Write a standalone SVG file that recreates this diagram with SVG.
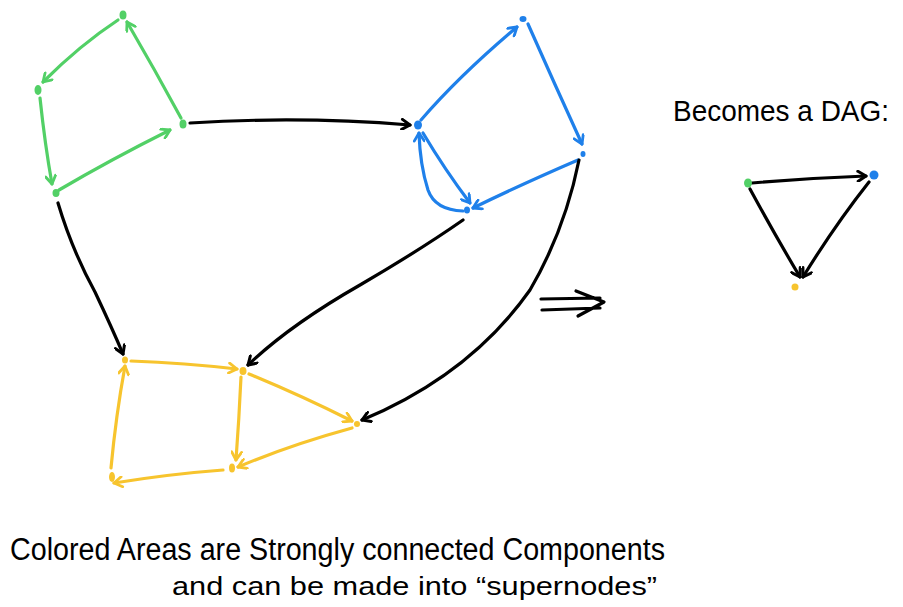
<svg xmlns="http://www.w3.org/2000/svg" width="903" height="607" viewBox="0 0 903 607">
  <style>
    .edge { fill: none; stroke-width: 3.2; stroke-linecap: round; stroke-linejoin: round; }
    .g { stroke: #52d066; }
    .b { stroke: #1f80ea; }
    .y { stroke: #f7c42e; }
    .k { stroke: #000; }
    .ng { fill: #52d066; }
    .nb { fill: #1f80ea; }
    .ny { fill: #f7c42e; }
    .label { font-family: "Liberation Sans", "DejaVu Sans", sans-serif; fill: #000; }
  </style>
  <defs>
    <marker id="ag" viewBox="-10 -6 12 12" markerWidth="12" markerHeight="12" refX="0" refY="0" orient="auto" markerUnits="userSpaceOnUse">
      <polyline points="-8,-5 0,0 -8,5" fill="none" stroke="#52d066" stroke-width="2.8" stroke-linecap="round" stroke-linejoin="round"/>
    </marker>
    <marker id="ab" viewBox="-10 -6 12 12" markerWidth="12" markerHeight="12" refX="0" refY="0" orient="auto" markerUnits="userSpaceOnUse">
      <polyline points="-8,-5 0,0 -8,5" fill="none" stroke="#1f80ea" stroke-width="2.8" stroke-linecap="round" stroke-linejoin="round"/>
    </marker>
    <marker id="ay" viewBox="-10 -6 12 12" markerWidth="12" markerHeight="12" refX="0" refY="0" orient="auto" markerUnits="userSpaceOnUse">
      <polyline points="-8,-5 0,0 -8,5" fill="none" stroke="#f7c42e" stroke-width="2.8" stroke-linecap="round" stroke-linejoin="round"/>
    </marker>
    <marker id="ak" viewBox="-10 -6 12 12" markerWidth="12" markerHeight="12" refX="0" refY="0" orient="auto" markerUnits="userSpaceOnUse">
      <polyline points="-8,-5 0,0 -8,5" fill="none" stroke="#000" stroke-width="3" stroke-linecap="round" stroke-linejoin="round"/>
    </marker>
  </defs>
  <rect width="903" height="607" fill="#fff"/>

  <!-- connectors -->
  <g id="connectors">
    <!-- green component -->
    <path class="edge g" d="M118,20 Q80,45 43,82" marker-end="url(#ag)"/>
    <path class="edge g" d="M40,98 Q45,145 52,184" marker-end="url(#ag)"/>
    <path class="edge g" d="M59,190 Q110,160 170,130" marker-end="url(#ag)"/>
    <path class="edge g" d="M181,118 Q155,70 127,22" marker-end="url(#ag)"/>
    <!-- blue component -->
    <path class="edge b" d="M421,120 Q460,75 517,27" marker-end="url(#ab)"/>
    <path class="edge b" d="M528,24 Q555,85 582,144" marker-end="url(#ab)"/>
    <path class="edge b" d="M578,160 Q520,185 473,208" marker-end="url(#ab)"/>
    <path class="edge b" d="M423,133 Q445,170 470,203" marker-end="url(#ab)"/>
    <path class="edge b" d="M463,211 Q435,210 428,190 Q420,165 419,133" marker-end="url(#ab)"/>
    <!-- yellow component -->
    <path class="edge y" d="M131,361 Q185,363 237,369" marker-end="url(#ay)"/>
    <path class="edge y" d="M249,374 Q300,395 352,421" marker-end="url(#ay)"/>
    <path class="edge y" d="M241,377 Q239,420 236,460" marker-end="url(#ay)"/>
    <path class="edge y" d="M352,428 Q290,445 238,467" marker-end="url(#ay)"/>
    <path class="edge y" d="M223,470 Q170,474 114,483" marker-end="url(#ay)"/>
    <path class="edge y" d="M111,468 Q116,415 125,366" marker-end="url(#ay)"/>
    <!-- links between components -->
    <path class="edge k" d="M190,123 Q300,116 410,125" marker-end="url(#ak)"/>
    <path class="edge k" d="M58,203 Q72,250 95,292 Q112,328 123,354" marker-end="url(#ak)"/>
    <path class="edge k" d="M463,220 Q420,250 360,285 Q290,325 248,365" marker-end="url(#ak)"/>
    <path class="edge k" d="M579,160 Q565,230 530,290 Q470,375 362,420" marker-end="url(#ak)"/>
    <!-- double arrow -->
    <path class="edge k" d="M541,299 L600,298 M542,310 L600,308 M576,291 L604,302 L578,316"/>
    <!-- condensed graph -->
    <path class="edge k" d="M752,183 Q810,178 866,176" marker-end="url(#ak)"/>
    <path class="edge k" d="M750,189 Q775,235 800,277" marker-end="url(#ak)"/>
    <path class="edge k" d="M869,182 Q835,225 803,277" marker-end="url(#ak)"/>
  </g>

  <!-- green nodes -->
  <g id="g1"><ellipse class="ng" cx="123" cy="15" rx="3.5" ry="4.5"/></g>
  <g id="g2"><ellipse class="ng" cx="38" cy="90" rx="3.5" ry="5"/></g>
  <g id="g3"><ellipse class="ng" cx="183" cy="124" rx="3.5" ry="4.5"/></g>
  <g id="g4"><ellipse class="ng" cx="56" cy="193" rx="3.5" ry="4"/></g>
  <!-- blue nodes -->
  <g id="b1"><ellipse class="nb" cx="418" cy="125" rx="4" ry="4.5"/></g>
  <g id="b2"><ellipse class="nb" cx="523" cy="19" rx="3.5" ry="3"/></g>
  <g id="b3"><ellipse class="nb" cx="583" cy="154" rx="2.5" ry="3"/></g>
  <g id="b4"><ellipse class="nb" cx="467" cy="210" rx="3" ry="3.5"/></g>
  <!-- yellow nodes -->
  <g id="y1"><ellipse class="ny" cx="125" cy="360" rx="3" ry="3.5"/></g>
  <g id="y2"><ellipse class="ny" cx="243" cy="371" rx="3.5" ry="4"/></g>
  <g id="y3"><ellipse class="ny" cx="357" cy="424" rx="3" ry="3"/></g>
  <g id="y4"><ellipse class="ny" cx="232" cy="468" rx="3" ry="4.5"/></g>
  <g id="y5"><ellipse class="ny" cx="112" cy="477" rx="3" ry="5"/></g>
  <!-- condensed graph nodes -->
  <g id="dag-green"><ellipse class="ng" cx="748" cy="183" rx="4" ry="4.5"/></g>
  <g id="dag-blue"><ellipse class="nb" cx="874" cy="175" rx="4.5" ry="4.5"/></g>
  <g id="dag-yellow"><ellipse class="ny" cx="795" cy="287" rx="3.5" ry="3.5"/></g>

  <!-- captions -->
  <g id="caption-dag">
    <text class="label" x="673" y="121" font-size="30" textLength="216" lengthAdjust="spacingAndGlyphs">Becomes a DAG:</text>
  </g>
  <g id="caption-scc">
    <text class="label" x="10" y="560" font-size="31" textLength="655" lengthAdjust="spacingAndGlyphs">Colored Areas are Strongly connected Components</text>
    <text class="label" x="172" y="595" font-size="26" textLength="485" lengthAdjust="spacingAndGlyphs">and can be made into “supernodes”</text>
  </g>
</svg>
